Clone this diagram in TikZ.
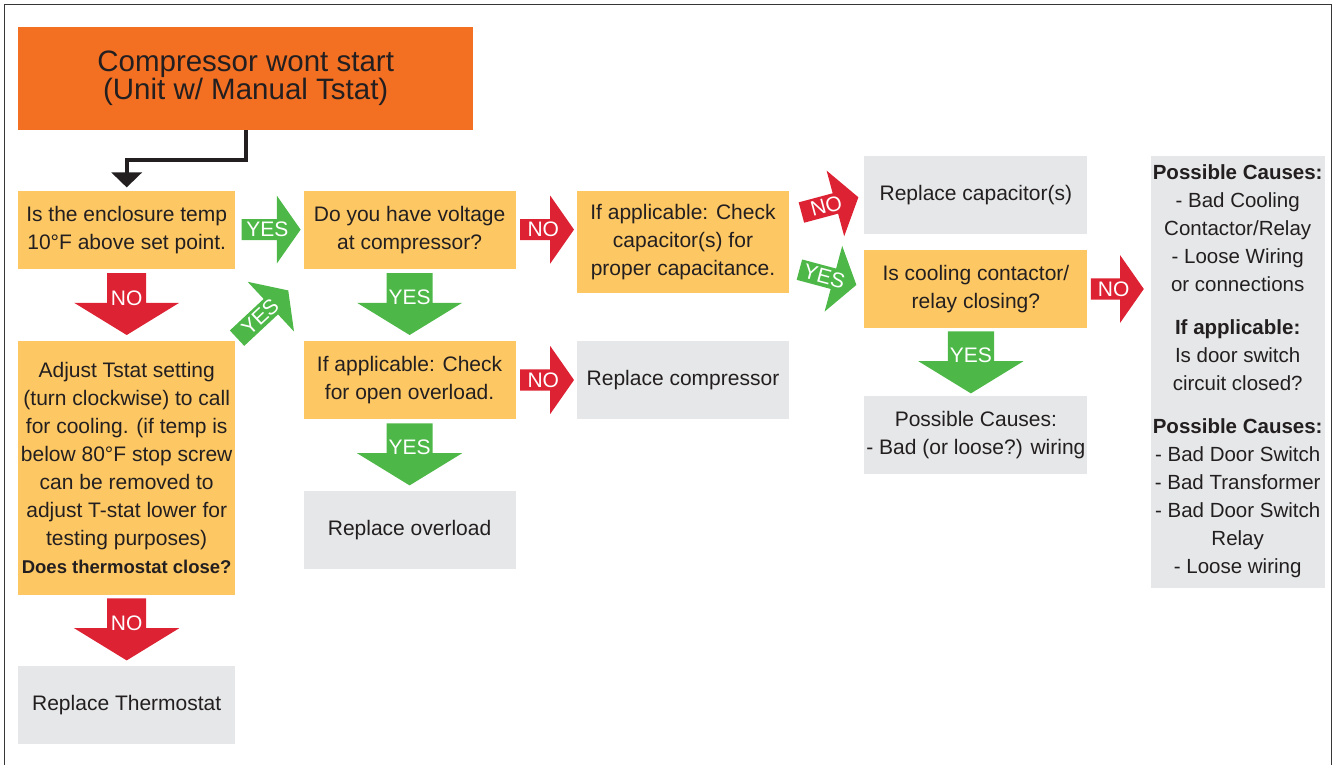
\documentclass[tikz,border=0pt]{standalone}
\usepackage{fontspec}
\setmainfont{Liberation Sans}
\usetikzlibrary{shapes.arrows,arrows.meta,positioning,calc}
\definecolor{titleorange}{RGB}{243,112,35}
\definecolor{askyellow}{RGB}{253,200,100}
\definecolor{fixgray}{RGB}{230,231,232}
\definecolor{yesgreen}{RGB}{77,184,72}
\definecolor{nored}{RGB}{221,34,52}
\definecolor{inkgray}{RGB}{35,31,32}
\definecolor{framegray}{RGB}{55,55,55}

\begin{document}
\begin{tikzpicture}[
    x=1pt, y=-1pt,
    font=\fontsize{21}{28}\selectfont, text=inkgray,
    box/.style={draw=none, align=center, inner sep=2pt},
    titlebox/.style={box, fill=titleorange, font=\fontsize{29.5}{28}\selectfont},
    askbox/.style={box, fill=askyellow},
    fixbox/.style={box, fill=fixgray},
    blockarr/.style={single arrow, draw=none, inner sep=0pt, text=white, font=\fontsize{21}{24}\selectfont},
    sidearr/.style={blockarr, minimum width=68pt, single arrow head extend=17pt, single arrow tip angle=110},
    downarr/.style={blockarr, shape border rotate=270, minimum width=105pt, single arrow head extend=27pt, single arrow tip angle=117, minimum height=62pt},
    yesarr/.style={fill=yesgreen},
    noarr/.style={fill=nored},
    arr/.style={-{Triangle[width=30pt,length=15pt]}, line width=4pt, draw=inkgray, shorten >=3pt}
]
\useasboundingbox (0,0) rectangle (1333,765);

% Outer frame
\draw[framegray, line width=1.6pt] (4.5,765) -- (4.5,4.5) -- (1331.5,4.5) -- (1331.5,765);

% Title
\node[titlebox, anchor=north west, minimum width=455pt, minimum height=103pt] (title) at (18,27) {
    Compressor wont start\\(Unit w/ Manual Tstat)
};

% First column
\node[askbox, below right=60pt and 0pt of title.south west, minimum width=217pt, minimum height=78pt] (temp) {
    Is the enclosure temp\\10°F above set point.
};
\node[askbox, below=72pt of temp, minimum width=217pt, minimum height=254pt] (adjust) {
    Adjust Tstat setting\\(turn clockwise) to call\\for cooling. (if temp is\\below 80°F stop screw\\can be removed to\\adjust T-stat lower for\\testing purposes)\\
    {\bfseries\fontsize{18.5}{28}\selectfont Does thermostat close?}
};
\node[fixbox, below=71pt of adjust, minimum width=217pt, minimum height=78pt] (thermo) {Replace Thermostat};

% Second column
\node[askbox, right=68pt of temp, minimum width=212pt, minimum height=78pt] (voltage) {
    Do you have voltage\\at compressor?
};
\node[askbox, below=72pt of voltage, minimum width=212pt, minimum height=78pt] (overload) {
    If applicable: Check\\for open overload.
};
\node[fixbox, below=72pt of overload, minimum width=212pt, minimum height=78pt] (repover) {Replace overload};

% Third column
\node[askbox, below right=0pt and 61pt of voltage.north east, minimum width=212pt, minimum height=102pt] (capcheck) {
    If applicable: Check\\capacitor(s) for\\proper capacitance.
};
\node[fixbox, right=61pt of overload, minimum width=212pt, minimum height=78pt] (repcomp) {Replace compressor};

% Fourth column
\node[fixbox, right=75pt of capcheck.north east, anchor=north west, yshift=35pt, minimum width=223pt, minimum height=78pt] (repcap) {Replace capacitor(s)};
\node[askbox, below=16pt of repcap, minimum width=223pt, minimum height=78pt] (contactor) {
    Is cooling contactor/\\relay closing?
};
\node[fixbox, below=68pt of contactor, minimum width=223pt, minimum height=78pt] (wiring) {
    Possible Causes:\\- Bad (or loose?) wiring
};

% Right column
\node[fixbox, right=63pt of repcap.north east, anchor=north west, minimum width=173pt, minimum height=432pt,
      font=\fontsize{20.5}{28}\selectfont] (causes) {
    \textbf{Possible Causes:}\\- Bad Cooling\\Contactor/Relay\\- Loose Wiring\\or connections\\[15pt]
    \textbf{If applicable:}\\Is door switch\\circuit closed?\\[15pt]
    \textbf{Possible Causes:}\\- Bad Door Switch\\- Bad Transformer\\- Bad Door Switch\\Relay\\- Loose wiring
};

% Block arrows
\node[sidearr, yesarr, right=6pt of temp, minimum height=59pt] (tempyes) {YES};
\node[downarr, noarr, below=4pt of temp] (tempno) {NO};
\node[sidearr, yesarr, anchor=tail, rotate=43, minimum height=70pt] (adjustyes) at ($(adjust.north east)+(1.5,-2.5)$) {YES};
\node[downarr, noarr, below=3pt of adjust] (adjustno) {NO};
\node[sidearr, noarr, right=4pt of voltage, minimum height=54pt] (voltageno) {NO};
\node[downarr, yesarr, below=4pt of voltage] (voltageyes) {YES};
\node[sidearr, noarr, right=4pt of overload, minimum height=54pt] (overloadno) {NO};
\node[downarr, yesarr, below=4pt of overload] (overloadyes) {YES};
\node[sidearr, noarr, anchor=tail, rotate=15, minimum height=59pt] (capno) at ($(capcheck.east)+(12,-29)$) {NO};
\node[sidearr, yesarr, anchor=tail, rotate=-15, minimum height=59pt] (capyes) at ($(capcheck.east)+(10,28)$) {YES};
\node[sidearr, noarr, right=3pt of contactor, minimum height=53pt] (contactorno) {NO};
\node[downarr, yesarr, below=3pt of contactor, xshift=-5pt] (contactoryes) {YES};

% Start connector
\draw[arr] (title.south) -- ++(0,30) -| (temp.north);

\end{tikzpicture}
\end{document}
